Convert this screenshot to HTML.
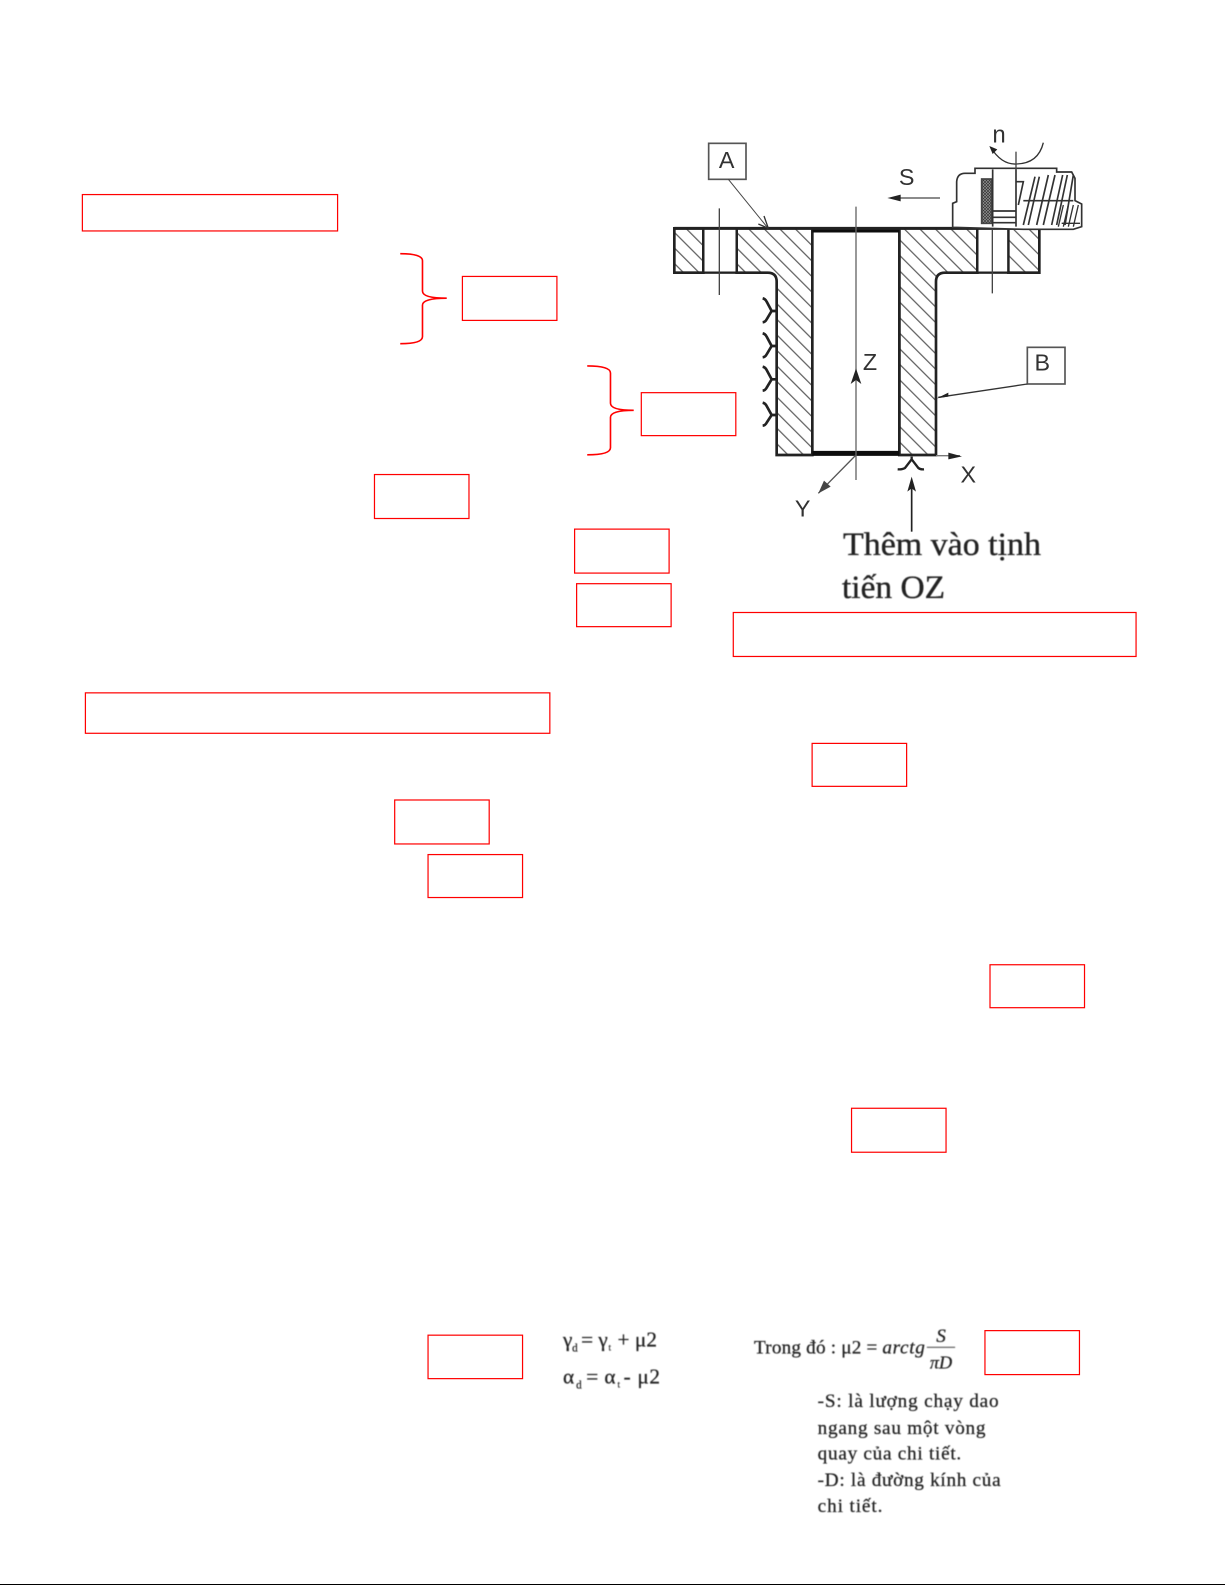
<!DOCTYPE html>
<html><head><meta charset="utf-8"><style>
html,body{margin:0;padding:0;background:#fff}
svg{display:block}
.sans{font-family:"Liberation Sans",sans-serif}
.serif{font-family:"Liberation Serif",serif}
</style></head><body>
<svg width="1225" height="1585" viewBox="0 0 1225 1585" xmlns="http://www.w3.org/2000/svg">
<defs>
<pattern id="h" width="33" height="33" patternUnits="userSpaceOnUse" patternTransform="translate(0 8) rotate(45)">
<rect width="33" height="33" fill="#fff"/><line x1="0" y1="16" x2="33" y2="16" stroke="#555" stroke-width="3.5"/>
</pattern>
<pattern id="d" width="9" height="9" patternUnits="userSpaceOnUse"><rect width="9" height="9" fill="#999"/><path d="M0 0L9 9M9 0L0 9" stroke="#333" stroke-width="2"/></pattern>
<filter id="b"><feGaussianBlur stdDeviation="0.7"/></filter>
<filter id="b2"><feGaussianBlur stdDeviation="0.55"/></filter>
</defs>

<!-- drawing, coordinates in 3x units -->
<g transform="translate(640 110) scale(0.33333)" filter="url(#b)" fill="none" stroke="#222">
 <g stroke-width="8" fill="url(#h)">
  <rect x="103" y="355" width="87" height="133"/>
  <path d="M290 355H517V1035H410V515Q410 488 383 488H290Z"/>
  <path d="M778 355H1012V488H915Q888 488 888 515V1035H778Z"/>
  <rect x="1105" y="355" width="93" height="133"/>
 </g>
 <rect x="190" y="355" width="100" height="133" stroke-width="7" fill="#fff"/>
 <rect x="1012" y="355" width="93" height="133" stroke-width="7" fill="#fff"/>
 <rect x="517" y="360" width="261" height="670" stroke-width="8" fill="#fff"/>
 <path d="M517 360H778M517 1030H778" stroke-width="15" stroke="#111"/>
 <path d="M103 355H1198" stroke-width="9"/>
 <!-- axes -->
 <path d="M648 290V1110" stroke-width="4" stroke="#666"/>
 <path d="M238 295V555M1057 175V550" stroke-width="4" stroke="#444"/>
 <path d="M648 1035L535 1150" stroke-width="4" stroke="#555"/>
 <path d="M888 1037H960" stroke-width="4" stroke="#777"/>
 <path d="M925 1028L966 1039L925 1048Z" fill="#222" stroke="none"/>
 <path d="M535 1150L552 1112L572 1130Z" fill="#444" stroke="none"/>
 <path d="M648 775L632 822L648 810L664 822Z" fill="#222" stroke="none"/>
 <!-- roughness -->
 <g stroke-width="8" stroke="#222">
  <path d="M410 603H395L380 575Q376 567 368 565M395 603L380 628Q376 636 368 637"/>
  <path d="M410 708H395L380 680Q376 672 368 670M395 708L380 733Q376 741 368 742"/>
  <path d="M410 808H395L380 780Q376 772 368 770M395 808L380 833Q376 841 368 842"/>
  <path d="M410 915H395L380 888Q376 880 368 878M395 915L380 938Q376 946 368 947"/>
  <path d="M815 1040V1048L795 1074Q787 1079 773 1078M815 1048L835 1074Q842 1079 852 1078" stroke-width="7"/>
 </g>
 <!-- leaders -->
 <rect x="206" y="100" width="112" height="108" stroke-width="5" stroke="#555" fill="#fff"/>
 <rect x="1162" y="712" width="113" height="110" stroke-width="5" stroke="#555" fill="#fff"/>
 <path d="M265 208L382 352" stroke-width="3" stroke="#444"/>
 <path d="M385 355L355 342M385 355L372 318" stroke-width="4" stroke="#333"/>
 <path d="M1162 822L895 862" stroke-width="4" stroke="#333"/>
 <path d="M890 865L925 848L925 860Z" fill="#222" stroke="none"/>
 <path d="M900 264H770" stroke-width="4" stroke="#444"/>
 <path d="M742 264L782 254L782 274Z" fill="#222" stroke="none"/>
 <path d="M815 1265V1125" stroke-width="5" stroke="#222"/>
 <path d="M815 1100L802 1145L815 1135L828 1145Z" fill="#222" stroke="none"/>
 <!-- tool -->
 <g stroke="#333" stroke-width="5">
  <path d="M938 350V280L950 275V215Q952 190 975 190H1005V175H1250V186H1295L1305 205V272L1325 282V350L1300 358H1150L938 352Z" fill="#fff"/>
  <rect x="1025" y="207" width="30" height="133" fill="url(#d)" stroke="#444"/>
  <path d="M1058 178V350M1128 178V350M1058 303H1128M1058 322H1128M1058 338H1128"/>
  <path d="M1150 345L1185 200M1165 345L1198 200M1190 345L1225 195M1210 345L1245 195M1235 345L1268 195M1250 345L1282 195M1275 345L1300 195M1150 272H1300"/>
  <path d="M1128 215H1150L1135 285"/>
  <path d="M1255 350L1270 285M1270 350L1285 285M1285 350L1300 285M1300 350L1315 285M1265 340H1320" stroke-width="4"/>
 </g>
 <path d="M1052 112Q1085 165 1130 162Q1195 160 1210 98" stroke-width="4" stroke="#333"/>
 <path d="M1048 108L1072 118L1058 132Z" fill="#222" stroke="none"/>
 <path d="M1128 125V200" stroke-width="4" stroke="#444"/>
 <g class="sans" fill="#333" stroke="none" font-size="70" text-anchor="middle">
  <text x="260" y="174">A</text>
  <text x="1207" y="782">B</text>
  <text x="800" y="225">S</text>
  <text x="690" y="780">Z</text>
  <text x="985" y="1118">X</text>
  <text x="488" y="1220">Y</text>
  <text x="1077" y="98" font-size="72">n</text>
 </g>
</g>

<g filter="url(#b2)" class="serif" fill="#222" stroke="#222" stroke-width="0.35">
 <text x="843" y="555" font-size="33" textLength="198" lengthAdjust="spacingAndGlyphs">Thêm vào tịnh</text>
 <text x="842" y="598" font-size="33" textLength="103" lengthAdjust="spacingAndGlyphs">tiến OZ</text>
</g>

<!-- page-scaled group -->
<g transform="scale(1.01073)">
 <g fill="#fff" stroke="#f00" stroke-width="1.2">
  <rect x="81.500" y="192.500" width="252.500" height="36"/>
  <rect x="457.500" y="273.500" width="93.500" height="43.500"/>
  <rect x="634.500" y="388.500" width="93.500" height="42.500"/>
  <rect x="370.500" y="469.500" width="93.500" height="43.500"/>
  <rect x="568.500" y="523.500" width="93.500" height="43.500"/>
  <rect x="570.500" y="577.500" width="93.500" height="42.500"/>
  <rect x="725.500" y="606" width="398.500" height="43.500"/>
  <rect x="84.500" y="685.500" width="459.500" height="40"/>
  <rect x="803.500" y="735.500" width="93.500" height="42.500"/>
  <rect x="390.500" y="791.500" width="93.500" height="43.500"/>
  <rect x="423.500" y="845.500" width="93.500" height="42.500"/>
  <rect x="979.500" y="954.500" width="93.500" height="42.500"/>
  <rect x="842.500" y="1096.500" width="93.500" height="43.500"/>
  <rect x="423.500" y="1321" width="93.500" height="43"/>
  <rect x="974.500" y="1316.500" width="93.500" height="43.500"/>
 </g>
 <g fill="none" stroke="#f00" stroke-width="1.6">
  <path d="M396 251Q418 251 418 258V288Q418 295 442 295Q418 295 418 302V333Q418 340 396 340"/>
  <path d="M581 362Q604 362 604 369V399Q604 406 627 406Q604 406 604 413V443Q604 450 581 450"/>
 </g>
 <g filter="url(#b2)" class="serif" fill="#222" stroke="#222" stroke-width="0.25">
  <g font-size="21">
   <text x="557" y="1332">γ</text><text x="566" y="1337" font-size="11">d</text>
   <text x="575" y="1332" textLength="16">=</text>
   <text x="592" y="1332">γ</text><text x="602" y="1336" font-size="9">t</text>
   <text x="611" y="1332" textLength="39">+ μ2</text>
   <text x="557" y="1369">α</text><text x="570" y="1374" font-size="11">d</text>
   <text x="580" y="1369" textLength="16">=</text>
   <text x="598" y="1369">α</text><text x="611" y="1373" font-size="9">t</text>
   <text x="617" y="1369" textLength="36">- μ2</text>
  </g>
  <text x="746" y="1339" font-size="19" textLength="122">Trong đó : μ2 =</text>
  <text x="873" y="1339" font-size="19" font-style="italic" textLength="42">arctg</text>
  <text x="931" y="1328" font-size="19" font-style="italic" text-anchor="middle">S</text>
  <path d="M917 1333H945" stroke="#555" stroke-width="1.2" fill="none"/>
  <text x="931" y="1354" font-size="18" font-style="italic" text-anchor="middle">πD</text>
  <g font-size="19">
   <text x="809" y="1392" textLength="179" lengthAdjust="spacing">-S: là lượng chạy dao</text>
   <text x="809" y="1419" textLength="166" lengthAdjust="spacing">ngang sau một vòng</text>
   <text x="809" y="1444" textLength="142" lengthAdjust="spacing">quay của chi tiết.</text>
   <text x="809" y="1470" textLength="181" lengthAdjust="spacing">-D: là đường kính của</text>
   <text x="809" y="1496" textLength="64" lengthAdjust="spacing">chi tiết.</text>
  </g>
 </g>
</g>
<rect x="0" y="1584" width="1225" height="2" fill="#000"/>
</svg>
</body></html>
